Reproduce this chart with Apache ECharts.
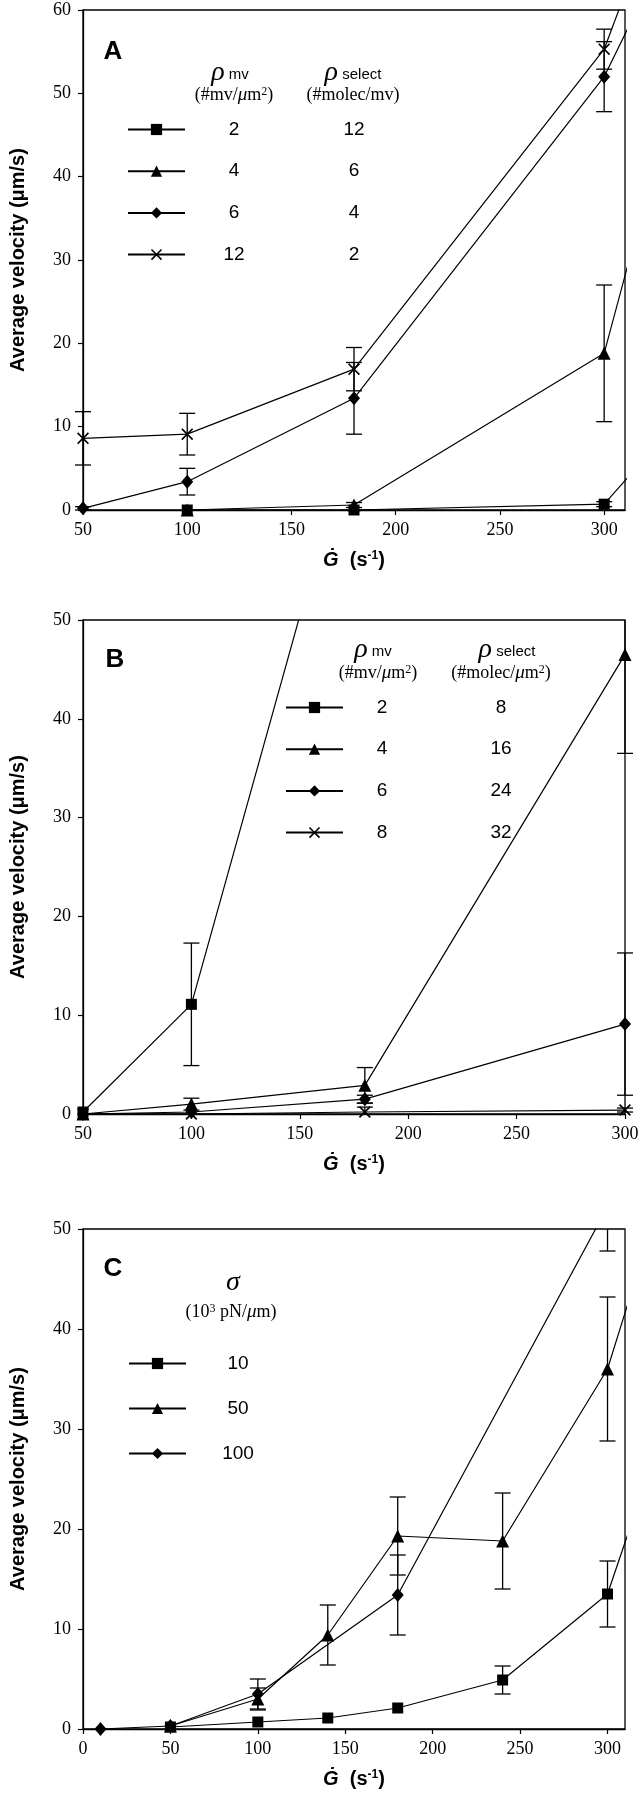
<!DOCTYPE html>
<html>
<head>
<meta charset="utf-8">
<script src="https://cdn.jsdelivr.net/npm/echarts@6/dist/echarts.min.js"></script>
<style>
html,body{margin:0;padding:0;background:#fff;}
#chart{width:642px;height:1800px;}
</style>
</head>
<body>
<div id="chart"></div>
<script>
// ---------- Panel A : x = shear rate, y = average velocity ----------
const A_sq_x  = [100, 180, 300, 400];
const A_sq_y  = [0, 0, 0.7, 29];
const A_sq_e  = [0, 0, 0.3, 0];
const A_tri_x = [100, 180, 300, 400];
const A_tri_y = [0, 0.6, 18.8, 112];
const A_tri_e = [0, 0.3, 8.2, 0];
const A_dia_x = [50, 100, 180, 300, 400];
const A_dia_y = [0.2, 3.4, 13.4, 52.0, 103];
const A_dia_e = [0.2, 1.6, 4.3, 4.2, 0];
const A_x_x   = [50, 100, 180, 300, 400];
const A_x_y   = [8.6, 9.1, 16.9, 55.3, 122];
const A_x_e   = [3.2, 2.5, 2.6, 2.4, 0];
const A_legend_mv = ['2', '4', '6', '12'];
const A_legend_sel = ['12', '6', '4', '2'];

// ---------- Panel B ----------
const B_sq_x  = [50, 100, 180];
const B_sq_y  = [0.2, 11.1, 74];
const B_sq_e  = [0, 6.2, 0];
const B_tri_x = [50, 100, 180, 300];
const B_tri_y = [0, 1.0, 2.9, 46.5];
const B_tri_e = [0, 0.6, 1.8, 10.0];
const B_dia_x = [50, 100, 180, 300];
const B_dia_y = [0, 0.2, 1.5, 9.1];
const B_dia_e = [0, 0, 0.4, 7.2];
const B_x_x   = [50, 100, 180, 300];
const B_x_y   = [0, 0, 0.2, 0.4];
const B_x_e   = [0, 0, 0.5, 0.2];
const B_legend_mv = ['2', '4', '6', '8'];
const B_legend_sel = ['8', '16', '24', '32'];

// ---------- Panel C ----------
const C_sq_x  = [50, 100, 140, 180, 240, 300, 400];
const C_sq_y  = [0.2, 0.7, 1.1, 2.1, 4.9, 13.5, 65];
const C_sq_e  = [0, 0, 0, 0, 1.4, 3.3, 0];
const C_tri_x = [50, 100, 140, 180, 240, 300, 400];
const C_tri_y = [0.3, 3.0, 9.4, 19.3, 18.8, 36.0, 92];
const C_tri_e = [0, 1.1, 3.0, 3.9, 4.8, 7.2, 0];
const C_dia_x = [10, 50, 100, 180, 300];
const C_dia_y = [0, 0.3, 3.5, 13.4, 52.2];
const C_dia_e = [0, 0, 1.5, 4.0, 4.4];
const C_legend_sigma = ['10', '50', '100'];

// tick labels
const A_xticks = [50, 100, 150, 200, 250, 300];
const B_xticks = [50, 100, 150, 200, 250, 300];
const C_xticks = [0, 50, 100, 150, 200, 250, 300];

const chart = echarts.init(document.getElementById('chart'), null, {renderer: 'canvas'});

const SYM = {
  sq: 'rect',
  tri: 'triangle',
  dia: 'diamond',
  x: 'path://M0,1.2L1.2,0L6,4.8L10.8,0L12,1.2L7.2,6L12,10.8L10.8,12L6,7.2L1.2,12L0,10.8L4.8,6Z'
};
const SIZE = {sq: 11, tri: 13, dia: [12, 14], x: 12};

function zip(xs, ys) { return xs.map((x, i) => [x, ys[i]]); }
function zip3(xs, ys, es) { return xs.map((x, i) => [x, ys[i], es[i]]); }

function lineSeries(name, kind, xs, ys, idx) {
  return {
    type: 'line', name: name, xAxisIndex: idx, yAxisIndex: idx,
    data: zip(xs, ys), symbol: SYM[kind], symbolSize: SIZE[kind],
    showAllSymbol: true, clip: true, z: 3,
    lineStyle: {color: '#000', width: 1.2},
    itemStyle: {color: '#000', borderWidth: 0},
    emphasis: {disabled: true}
  };
}
function errSeries(xs, ys, es, idx) {
  return {
    type: 'custom', xAxisIndex: idx, yAxisIndex: idx, z: 2, silent: true,
    data: zip3(xs, ys, es),
    encode: {x: 0, y: 1},
    renderItem: function (params, api) {
      const e = api.value(2);
      if (!e) return null;
      const x = api.value(0), y = api.value(1);
      const cs = params.coordSys;
      const pTop = api.coord([x, y + e]);
      const pBot = api.coord([x, y - e]);
      const px = pTop[0];
      if (px < cs.x - 1 || px > cs.x + cs.width + 1) return null;
      const top = Math.max(pTop[1], cs.y), bot = Math.min(pBot[1], cs.y + cs.height);
      if (top >= bot) return null;
      const st = {stroke: '#000', lineWidth: 1.3};
      const ch = [{type: 'line', shape: {x1: px, y1: top, x2: px, y2: bot}, style: st}];
      if (pTop[1] >= cs.y - 0.5) ch.push({type: 'line', shape: {x1: px - 8, y1: pTop[1], x2: px + 8, y2: pTop[1]}, style: st});
      if (pBot[1] <= cs.y + cs.height + 0.5) ch.push({type: 'line', shape: {x1: px - 8, y1: pBot[1], x2: px + 8, y2: pBot[1]}, style: st});
      return {type: 'group', children: ch};
    }
  };
}

const axisCommon = {
  type: 'value',
  axisLine: {show: true, lineStyle: {color: '#000', width: 1.3}},
  axisTick: {show: true, inside: false, length: 5, lineStyle: {color: '#000', width: 1.2}},
  splitLine: {show: false},
  axisLabel: {color: '#000', fontFamily: 'Liberation Serif', fontSize: 18}
};
const xName = '{g|\u0120}{n|  (s}{sup|-1}{n|)}';
const xNameStyle = {
  rich: {
    g: {fontFamily: 'Liberation Sans', fontWeight: 'bold', fontStyle: 'italic', fontSize: 20, color: '#000', verticalAlign: 'bottom'},
    n: {fontFamily: 'Liberation Sans', fontWeight: 'bold', fontSize: 20, color: '#000', verticalAlign: 'bottom'},
    sup: {fontFamily: 'Liberation Sans', fontWeight: 'bold', fontSize: 12, color: '#000', verticalAlign: 'top'}
  }
};
function xAxisDef(idx, min, max, ticks) {
  return Object.assign({}, axisCommon, {
    gridIndex: idx, min: min, max: max, interval: 50,
    axisTick: Object.assign({}, axisCommon.axisTick, {customValues: ticks}),
    axisLabel: Object.assign({}, axisCommon.axisLabel, {margin: 11, customValues: ticks}),
    name: xName, nameLocation: 'middle', nameGap: 40, nameTextStyle: xNameStyle
  });
}
function yAxisDef(idx, max) {
  return Object.assign({}, axisCommon, {
    gridIndex: idx, min: 0, max: max, interval: 10,
    axisLabel: Object.assign({}, axisCommon.axisLabel, {margin: 12}),
    name: 'Average velocity (\u03bcm/s)', nameLocation: 'middle', nameGap: 55,
    nameTextStyle: {fontFamily: 'Liberation Sans', fontWeight: 'bold', fontSize: 20, color: '#000'}
  });
}

const nm = (p, a, b) => b === undefined ? p + '|' + a : p + '|' + a + '|' + b;
const A_names = A_legend_mv.map((v, i) => nm('A', v, A_legend_sel[i]));
const B_names = B_legend_mv.map((v, i) => nm('B', v, B_legend_sel[i]));
const C_names = C_legend_sigma.map(v => nm('C', v));

const series = [
  errSeries(A_sq_x, A_sq_y, A_sq_e, 0),
  errSeries(A_tri_x, A_tri_y, A_tri_e, 0),
  errSeries(A_dia_x, A_dia_y, A_dia_e, 0),
  errSeries(A_x_x, A_x_y, A_x_e, 0),
  lineSeries(A_names[3], 'x', A_x_x, A_x_y, 0),
  lineSeries(A_names[1], 'tri', A_tri_x, A_tri_y, 0),
  lineSeries(A_names[0], 'sq', A_sq_x, A_sq_y, 0),
  lineSeries(A_names[2], 'dia', A_dia_x, A_dia_y, 0),

  errSeries(B_sq_x, B_sq_y, B_sq_e, 1),
  errSeries(B_tri_x, B_tri_y, B_tri_e, 1),
  errSeries(B_dia_x, B_dia_y, B_dia_e, 1),
  errSeries(B_x_x, B_x_y, B_x_e, 1),
  lineSeries(B_names[3], 'x', B_x_x, B_x_y, 1),
  lineSeries(B_names[2], 'dia', B_dia_x, B_dia_y, 1),
  lineSeries(B_names[1], 'tri', B_tri_x, B_tri_y, 1),
  lineSeries(B_names[0], 'sq', B_sq_x, B_sq_y, 1),

  errSeries(C_sq_x, C_sq_y, C_sq_e, 2),
  errSeries(C_tri_x, C_tri_y, C_tri_e, 2),
  errSeries(C_dia_x, C_dia_y, C_dia_e, 2),
  lineSeries(C_names[0], 'sq', C_sq_x, C_sq_y, 2),
  lineSeries(C_names[1], 'tri', C_tri_x, C_tri_y, 2),
  lineSeries(C_names[2], 'dia', C_dia_x, C_dia_y, 2)
];

function legendDef(names, left, top, gap, w1, w2) {
  return {
    data: names, orient: 'vertical', left: left, top: top, padding: 0,
    itemWidth: 57, itemHeight: 14, itemGap: gap, selectedMode: false,
    inactiveColor: '#000',
    formatter: function (name) {
      const p = name.split('|');
      return p.length === 3 ? '{c1|' + p[1] + '}{c2|' + p[2] + '}' : '{c1|' + p[1] + '}';
    },
    textStyle: {
      color: '#000', fontFamily: 'Liberation Sans', fontSize: 19, lineHeight: 14,
      rich: {
        c1: {width: w1, align: 'center', fontFamily: 'Liberation Sans', fontSize: 19, lineHeight: 14, color: '#000'},
        c2: {width: w2 || 10, align: 'center', fontFamily: 'Liberation Sans', fontSize: 19, lineHeight: 14, color: '#000'}
      }
    }
  };
}

const headRich = {
  r: {fontFamily: 'Liberation Serif', fontStyle: 'italic', fontSize: 28, fill: '#000'},
  s: {fontFamily: 'Liberation Sans', fontSize: 15, fill: '#000', padding: [4, 0, 0, 0]},
  mu: {fontFamily: 'Liberation Serif', fontStyle: 'italic', fontSize: 19, fill: '#000'},
  sup: {fontFamily: 'Liberation Serif', fontSize: 12, fill: '#000', verticalAlign: 'top'}
};
function txt(x, y, text, font) {
  return {
    type: 'text', x: x, y: y, silent: true,
    style: {text: text, font: font || '18px "Liberation Serif"', fill: '#000', align: 'center', verticalAlign: 'middle', rich: headRich}
  };
}
const letterFont = 'bold 26px "Liberation Sans"';

const option = {
  animation: false,
  backgroundColor: '#fff',
  grid: [
    {left: 75, top: 10, width: 550, height: 500, show: true, borderColor: '#000', borderWidth: 1.3, backgroundColor: 'transparent'},
    {left: 75, top: 620, width: 550, height: 494, show: true, borderColor: '#000', borderWidth: 1.3, backgroundColor: 'transparent'},
    {left: 75, top: 1229, width: 550, height: 500, show: true, borderColor: '#000', borderWidth: 1.3, backgroundColor: 'transparent'}
  ],
  xAxis: [xAxisDef(0, 50, 310, A_xticks), xAxisDef(1, 50, 300, B_xticks), xAxisDef(2, 0, 310, C_xticks)],
  yAxis: [yAxisDef(0, 60), yAxisDef(1, 50), yAxisDef(2, 50)],
  legend: [
    legendDef(A_names, 127, 120, 22.7, 88, 152),
    legendDef(B_names, 285, 698, 22.7, 68, 170),
    legendDef(C_names, 128, 1354, 26, 94)
  ],
  graphic: [
    txt(113, 52, 'A', letterFont),
    txt(230, 73, '{r|\u03c1}{s| mv}'),
    txt(234, 95, '(#mv/{mu|\u03bc}m{sup|2})'),
    txt(353, 73, '{r|\u03c1}{s| select}'),
    txt(353, 95, '(#molec/mv)'),
    txt(115, 660, 'B', letterFont),
    txt(373, 650, '{r|\u03c1}{s| mv}'),
    txt(378, 673, '(#mv/{mu|\u03bc}m{sup|2})'),
    txt(507, 650, '{r|\u03c1}{s| select}'),
    txt(501, 673, '(#molec/{mu|\u03bc}m{sup|2})'),
    txt(113, 1269, 'C', letterFont),
    txt(233, 1283, '{r|\u03c3}'),
    txt(231, 1312, '(10{sup|3} pN/{mu|\u03bc}m)')
  ],
  series: series
};
chart.setOption(option);
</script>
</body>
</html>
